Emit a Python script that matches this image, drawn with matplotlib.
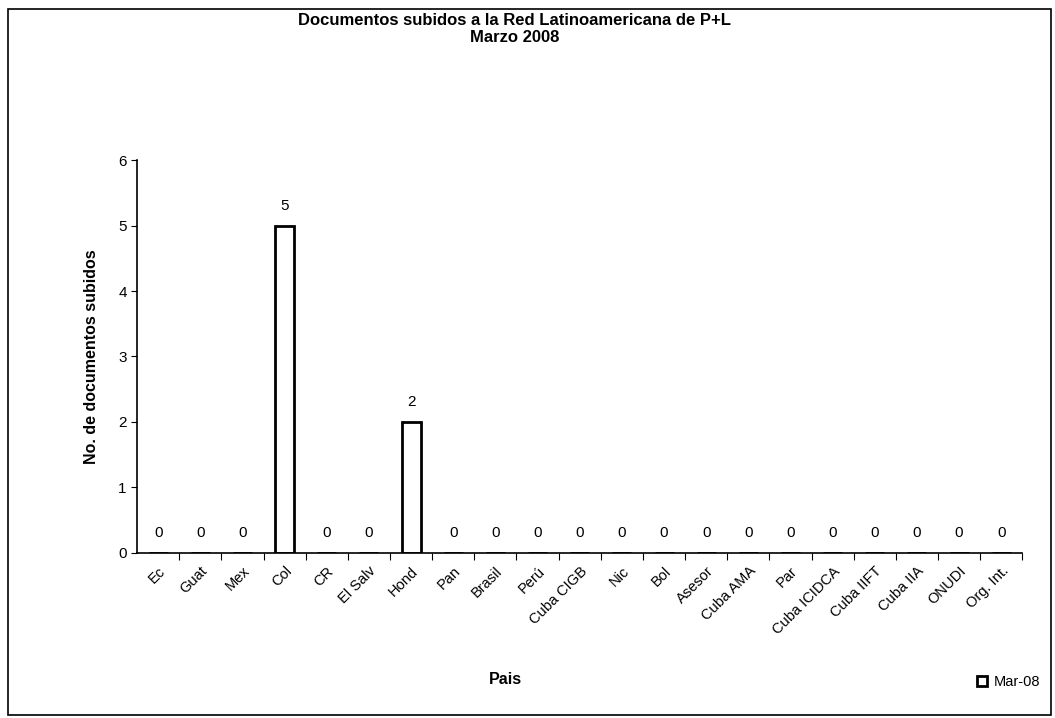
import numpy as np
import matplotlib.pyplot as plt
from matplotlib.patches import Rectangle

# Data
paises = ["Ec", "Guat", "Mex", "Col", "CR", "El Salv", "Hond", "Pan", "Brasil", "Perú",
          "Cuba CIGB", "Nic", "Bol", "Asesor", "Cuba AMA", "Par", "Cuba ICIDCA",
          "Cuba IIFT", "Cuba IIA", "ONUDI", "Org. Int."]
documentos = [0, 0, 0, 5, 0, 0, 2, 0, 0, 0, 0, 0, 0, 0, 0, 0, 0, 0, 0, 0, 0]
serie = "Mar-08"

plt.rcParams['font.family'] = ['Liberation Sans', 'DejaVu Sans']

fig = plt.figure(figsize=(10.55, 7.18), dpi=100)
ax = fig.add_axes([0.13, 0.23, 0.839, 0.547])

x = np.arange(len(paises))
bars = ax.bar(x, documentos, width=0.45, color='white', edgecolor='black',
              linewidth=2, label=serie)

for xi, v in zip(x, documentos):
    ax.annotate(str(v), (xi, v), textcoords="offset points", xytext=(0, 9),
                ha='center', va='bottom', fontsize=11)

ax.set_xlim(-0.5, len(paises) - 0.5)
ax.set_ylim(0, 6)
ax.set_yticks(range(0, 7))
ax.tick_params(axis='y', labelsize=11, length=4, direction='out')

# ticks between categories, labels at category centers
ax.set_xticks(np.arange(len(paises)) + 0.5, minor=False)
ax.set_xticklabels([])
ax.set_xticks(x, minor=True)
ax.set_xticklabels(paises, minor=True, rotation=45, ha='right',
                   rotation_mode='anchor', fontsize=10.5)
ax.tick_params(axis='x', which='major', length=5, direction='out')
ax.tick_params(axis='x', which='minor', length=0, pad=8)

for s in ['top', 'right']:
    ax.spines[s].set_visible(False)
ax.spines['left'].set_linewidth(1.2)
ax.spines['bottom'].set_linewidth(1.2)

ax.set_ylabel("No. de documentos subidos", fontsize=11.5, fontweight='bold', labelpad=14)
fig.text(0.479, 0.048, "Pais", ha='center', fontsize=11.5, fontweight='bold')
fig.text(0.488, 0.972, "Documentos subidos a la Red Latinoamericana de P+L",
         ha='center', va='center', fontsize=12, fontweight='bold')
fig.text(0.488, 0.948, "Marzo 2008", ha='center', va='center',
         fontsize=12, fontweight='bold')

# legend
fig.legend(loc='lower right', bbox_to_anchor=(0.998, 0.022), frameon=False,
           fontsize=10.5, handlelength=0.7, handleheight=0.7, handletextpad=0.4)

# chart border
fig.patches.append(Rectangle((0.008, 0.004), 0.988, 0.984, transform=fig.transFigure,
                             fill=False, edgecolor='black', linewidth=1.2))

fig.savefig("out.png", dpi=100)
